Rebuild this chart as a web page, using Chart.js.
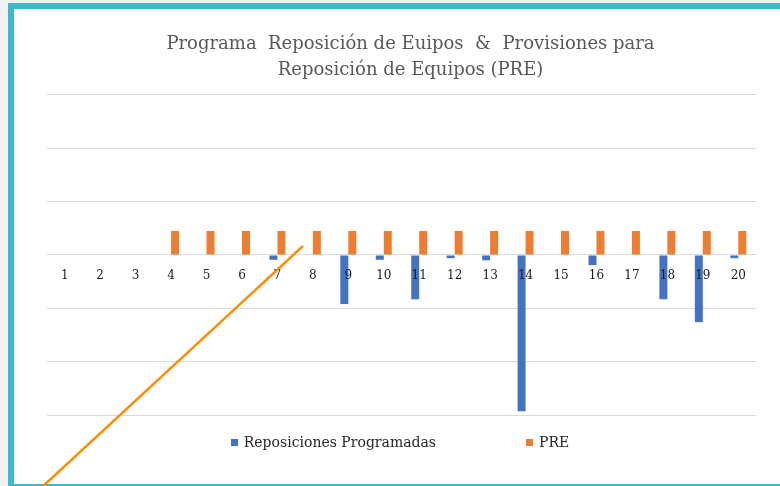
<!DOCTYPE html>
<html>
<head>
<meta charset="utf-8">
<script src="https://cdn.jsdelivr.net/npm/chart.js@4.4.1/dist/chart.umd.min.js"></script>
<style>
    html, body { margin: 0; padding: 0; }
    body { width: 780px; height: 486px; overflow: hidden; background: #f2f2f2; position: relative; font-family: "DejaVu Serif", serif; }
    #frame { position: absolute; left: 8px; top: 3px; width: 800px; height: 487px; box-sizing: border-box; border: 6px solid #3fb8cb; border-right: none; background: #fff; }
    #wrap { position: absolute; left: 0; top: 0; width: 780px; height: 486px; }
    #legend { position: absolute; left: 10px; top: 434px; width: 780px; text-align: center; font-size: 14px; color: #262626; white-space: nowrap; }
    #legend span.item { display: inline-block; margin: 0 45px; }
    #legend span.box { display: inline-block; width: 7px; height: 7px; margin-right: 6px; vertical-align: 1px; }
    #arrow { position: absolute; left: 0; top: 0; }
</style>
</head>
<body>
<div id="frame"></div>
<div id="wrap"><canvas id="chartPRE"></canvas></div>
<div id="legend"></div>
<svg id="arrow" width="780" height="486"><line x1="41" y1="488" x2="303" y2="246" stroke="#ff8c00" stroke-width="2.5"/></svg>
<script>
const categories = ["1", "2", "3", "4", "5", "6", "7", "8", "9", "10", "11", "12", "13", "14", "15", "16", "17", "18", "19", "20"];
const reposiciones = [null, null, null, null, null, null, -0.09, null, -0.92, -0.09, -0.83, -0.06, -0.1, -2.93, null, -0.19, null, -0.83, -1.26, -0.06];
const pre = [null, null, null, 0.45, 0.45, 0.45, 0.45, 0.45, 0.45, 0.45, 0.45, 0.45, 0.45, 0.45, 0.45, 0.45, 0.45, 0.45, 0.45, 0.45];
const seriesNames = ["Reposiciones Programadas", "PRE"];
const seriesColors = ["#4472c4", "#ed7d31"];
const titleLines = ["Programa  Reposición de Euipos  &  Provisiones para", "Reposición de Equipos (PRE)"];

document.addEventListener("DOMContentLoaded", function() {
    // legend below the chart, Excel-style wide spacing
    const legend = document.getElementById("legend");
    seriesNames.forEach(function(name, i) {
        const item = document.createElement("span");
        item.className = "item";
        item.innerHTML = '<span class="box" style="background:' + seriesColors[i] + '"></span>' + name;
        legend.appendChild(item);
    });

    const shiftTitle = {
        id: "shiftTitle",
        afterLayout: function(chart) {
            if (chart.titleBlock) {
                chart.titleBlock.left += 9;
                chart.titleBlock.right += 9;
            }
        }
    };

    new Chart(document.getElementById("chartPRE"), {
        type: "bar",
        data: {
            labels: categories,
            datasets: [{
                label: seriesNames[0],
                data: reposiciones,
                backgroundColor: seriesColors[0]
            }, {
                label: seriesNames[1],
                data: pre,
                backgroundColor: seriesColors[1]
            }]
        },
        options: {
            responsive: true,
            maintainAspectRatio: false,
            animation: false,
            categoryPercentage: 0.45,
            barPercentage: 1,
            layout: { padding: { left: 47, right: 24, top: 0, bottom: 71 } },
            plugins: {
                legend: { display: false },
                tooltip: { enabled: false },
                title: {
                    display: true,
                    text: titleLines,
                    color: "#595959",
                    font: { family: "DejaVu Serif", size: 18, weight: "normal", lineHeight: 1.444 },
                    padding: { top: 31, bottom: 12 }
                }
            },
            scales: {
                x: {
                    position: { y: 0 },
                    grid: { display: false },
                    border: { display: false },
                    ticks: {
                        z: 1,
                        color: "#1a1a1a",
                        font: { family: "DejaVu Serif", size: 12 },
                        padding: 6,
                        maxRotation: 0,
                        autoSkip: false
                    }
                },
                y: {
                    min: -3,
                    max: 3,
                    ticks: { display: false, stepSize: 1 },
                    border: { display: false },
                    grid: { color: "#d9d9d9", drawTicks: false }
                }
            }
        },
        plugins: [shiftTitle]
    });
});
</script>
</body>
</html>
